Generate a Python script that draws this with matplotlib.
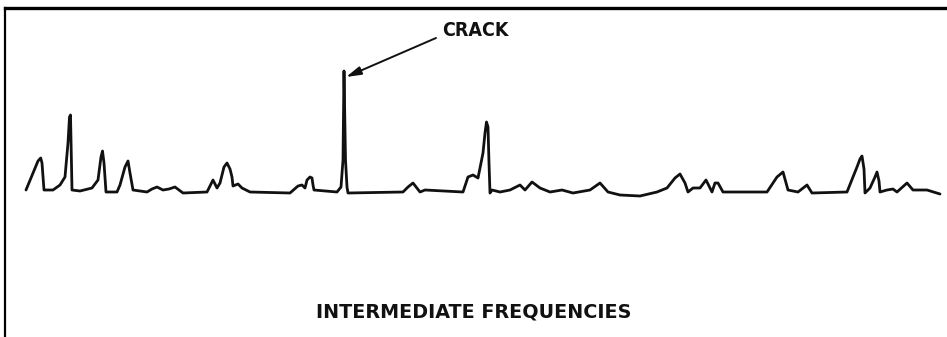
import matplotlib
matplotlib.use('Agg')
import matplotlib.pyplot as plt

# Trace recorded across the intermediate frequency band
# position along the sweep and amplitude above the baseline
trace_x = [26, 33, 38, 40.7, 42, 44, 53, 60, 65, 68, 69.5, 70.5, 72, 80, 92, 98, 101, 102.5, 104, 106,
           117, 120, 125, 128, 130, 133, 147, 152, 157, 163, 169, 175, 183,
           207, 210, 213, 217, 220, 224, 227, 230, 232, 233, 238, 242, 250,
           290, 298, 302, 305, 307, 310, 312, 313, 314, 337, 341, 343, 344, 345.5, 347, 348,
           403, 408, 413, 420, 425, 463, 468, 473, 478, 483, 485, 486.5, 488, 489, 490,
           492, 500, 510, 520, 525, 532, 540, 550, 562, 573, 590, 600, 608, 620, 640,
           657, 667, 675, 680, 685, 688, 693, 700, 706, 712, 715, 718, 723,
           767, 777, 783, 788, 798, 807, 812, 847, 857, 860, 862, 864, 865, 870, 875, 877,
           879, 880, 887, 893, 897, 907, 913, 927, 940]
trace_amp = [3, 20, 32, 35, 30, 3, 3, 8, 16, 50, 76, 78, 3, 2, 5, 13, 36, 42, 30, 1,
             1, 8, 26, 32, 20, 3, 1, 4, 6, 3, 4, 6, 0,
             1, 7, 13, 5, 10, 26, 30, 24, 16, 7, 9, 5, 1,
             0, 7, 8, 5, 13, 16, 15, 8, 3, 1, 6, 33, 122, 33, 6, 0,
             1, 6, 10, 1, 3, 1, 16, 18, 15, 40, 60, 71, 66, 30, 0,
             3, 1, 3, 8, 3, 11, 5, 1, 3, 0, 3, 10, 1, -2, -3,
             1, 5, 15, 19, 10, 1, 5, 5, 13, 1, 10, 10, 1,
             1, 16, 21, 3, 1, 8, 0, 1, 26, 34, 37, 24, 0, 5, 16, 21,
             12, 1, 3, 4, 1, 10, 3, 3, -1]

label_top = 'CRACK'
label_bottom = 'INTERMEDIATE FREQUENCIES'
crack_tip = (346, 116)
crack_text = (475, 162)

fig = plt.figure(figsize=(9.47, 3.37), dpi=100)
ax = fig.add_axes([5 / 947, 0, 942 / 947, 329 / 337])
ax.set_xlim(5, 947)
ax.set_ylim(-144, 185)

ax.plot(trace_x, trace_amp, color='#111111', lw=2.0, solid_joinstyle='round',
        solid_capstyle='round')

# arrow pointing at the crack peak
ax.annotate('', xy=crack_tip, xytext=(436, 155),
            arrowprops=dict(arrowstyle='-|>,head_length=0.9,head_width=0.25',
                            color='#111111', lw=1.4, shrinkA=0, shrinkB=0))
ax.text(crack_text[0], crack_text[1], label_top, ha='center', va='center',
        fontsize=14, fontweight='bold', fontstretch='condensed', color='#111111')
ax.text(474, -119, label_bottom, ha='center', va='center',
        fontsize=13.8, fontweight='bold', color='#111111')

for side in ['right', 'bottom']:
    ax.spines[side].set_visible(False)
ax.spines['top'].set_linewidth(2.4)
ax.spines['left'].set_linewidth(1.6)
ax.set_xticks([])
ax.set_yticks([])

plt.savefig('out.png', dpi=100)
